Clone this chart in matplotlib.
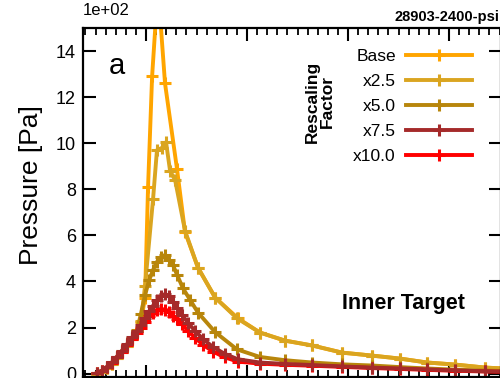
import numpy as np
import matplotlib
matplotlib.use("Agg")
import matplotlib.pyplot as plt
from matplotlib.ticker import MultipleLocator

plt.rcParams['font.family'] = ['Liberation Sans', 'DejaVu Sans']

# target pressure profiles (units of 1e+02 Pa) for each rescaling factor
rise_x = [-2.43, -2.18, -1.93, -1.68, -1.44, -1.19, -0.94, -0.69, -0.45]

base_x = rise_x + [-0.25, -0.05, 0.10, 0.30, 0.59, 0.94, 1.53, 1.93, 2.57, 3.42, 4.55,
                   5.64, 6.88, 8.22, 9.70, 11.19, 12.57, 13.91, 15.30, 16.78, 18.17]
base_y = [0.0, 0.08, 0.22, 0.42, 0.66, 0.92, 1.2, 1.5, 1.85,
          2.25, 3.3, 8.1, 12.9, 16.8, 12.6, 8.9, 6.15, 4.6, 3.3, 2.4,
          1.78, 1.43, 1.22, 0.91, 0.78, 0.65, 0.48, 0.39, 0.26, 0.2]

x25_x = rise_x + [-0.25, -0.05, 0.35, 0.54, 0.79, 0.99, 1.19, 1.44, 1.93, 2.57, 3.42, 4.50,
                  5.64, 6.88, 8.22, 9.70, 11.19, 12.57, 13.91, 15.30, 16.78, 18.17]
x25_y = [0.0, 0.08, 0.22, 0.42, 0.66, 0.92, 1.2, 1.5, 1.85,
         2.3, 3.8, 7.6, 9.7, 9.8, 10.05, 8.8, 8.4, 6.2, 4.6, 3.3, 2.4,
         1.78, 1.43, 1.22, 0.91, 0.78, 0.65, 0.48, 0.39, 0.26, 0.2]

x50_x = rise_x + [-0.25, -0.05, 0.15, 0.35, 0.54, 0.74, 0.94, 1.14, 1.34, 1.53, 1.83, 2.18,
                  2.57, 3.42, 4.50, 5.64, 6.88, 8.22, 9.70, 11.19, 12.57, 13.91, 15.30,
                  16.78, 18.17]
x50_y = [0.02, 0.12, 0.28, 0.48, 0.72, 0.98, 1.25, 1.55, 1.88,
         2.6, 3.4, 4.05, 4.5, 4.85, 5.05, 5.15, 4.95, 4.7, 4.3, 3.7, 3.2,
         2.65, 1.8, 1.05, 0.72, 0.58, 0.48, 0.4, 0.35, 0.28, 0.22, 0.17, 0.13, 0.1]

x75_x = rise_x + [-0.25, -0.05, 0.15, 0.35, 0.54, 0.74, 0.94, 1.14, 1.34, 1.53, 1.78, 2.08,
                  2.43, 2.82, 3.32, 3.91, 4.55, 5.64, 6.88, 8.22, 9.70, 11.19, 12.57,
                  13.91, 15.30, 16.78, 18.17]
x75_y = [0.03, 0.13, 0.3, 0.5, 0.74, 1.0, 1.28, 1.57, 1.85,
         2.1, 2.4, 2.7, 2.95, 3.2, 3.38, 3.45, 3.35, 3.1, 2.85, 2.55, 2.2,
         1.85, 1.5, 1.15, 0.85, 0.62, 0.48, 0.42, 0.37, 0.31, 0.26, 0.22, 0.18,
         0.14, 0.1, 0.08]

x100_x = x75_x
x100_y = [0.02, 0.11, 0.27, 0.46, 0.7, 0.95, 1.22, 1.5, 1.77,
          2.0, 2.25, 2.48, 2.65, 2.75, 2.8, 2.78, 2.68, 2.5, 2.35, 2.15, 1.85,
          1.55, 1.25, 0.95, 0.7, 0.52, 0.43, 0.38, 0.34, 0.29, 0.24, 0.2, 0.16,
          0.12, 0.09, 0.07]

labels = ["Base", "x2.5", "x5.0", "x7.5", "x10.0"]
colors = ["#FFA500", "#DAA520", "#B8860B", "#A52A2A", "#FF0000"]
series = [(base_x, base_y), (x25_x, x25_y), (x50_x, x50_y), (x75_x, x75_y), (x100_x, x100_y)]

fig = plt.figure(figsize=(5, 3.78), dpi=100)
ax = fig.add_axes([0.166, 0.0026, 0.836, 0.923])

lines = {}
for i in [0, 1, 2, 4, 3]:   # red under brown
    xs, ys = series[i]
    ln, = ax.plot(xs, ys, color=colors[i], lw=2.8, marker='+', ms=8, mew=2.2)
    lines[i] = ln

ax.set_xlim(-3.12, 17.57)
ax.set_ylim(-0.15, 15)
ax.xaxis.set_major_locator(MultipleLocator(5))
ax.xaxis.set_minor_locator(MultipleLocator(0.5))
ax.yaxis.set_major_locator(MultipleLocator(2))
ax.tick_params(which='major', direction='in', length=9, width=1.5, top=True, right=True,
               labelsize=13, pad=5)
ax.tick_params(which='minor', direction='in', length=5, width=1.3, top=True, right=False,
               left=False)
ax.tick_params(axis='x', labelbottom=False)
for s in ax.spines.values():
    s.set_linewidth(1.6)

ax.text(0.0, 1.03, "1e+02", transform=ax.transAxes, fontsize=12, ha='left', va='bottom')
fig.text(499 / 500, 1 - 17 / 378, "28903-2400-psi", fontsize=10.5, fontweight='bold',
         ha='right', va='center')
ax.text(0.081, 0.891, "a", transform=ax.transAxes, fontsize=21, ha='center', va='center')
ax.text(0.766, 0.212, "Inner Target", transform=ax.transAxes, fontsize=15.5,
        fontweight='bold', ha='center', va='center')
fig.text(0.062, 0.51, "Pressure [Pa]", rotation=90, fontsize=19, ha='center', va='center')

ax.legend([lines[i] for i in range(5)], labels, loc='upper right',
          bbox_to_anchor=(0.931, 0.941), frameon=False, markerfirst=False,
          handlelength=3.8, handletextpad=0.6, labelspacing=0.57, fontsize=12.5,
          borderpad=0, borderaxespad=0)
ax.text(0.567, 0.79, "Rescaling\nFactor", transform=ax.transAxes, rotation=90,
        fontsize=12.5, fontweight='bold', ha='center', va='center', linespacing=1.0,
        multialignment='center')

fig.savefig("out.png", dpi=100)
